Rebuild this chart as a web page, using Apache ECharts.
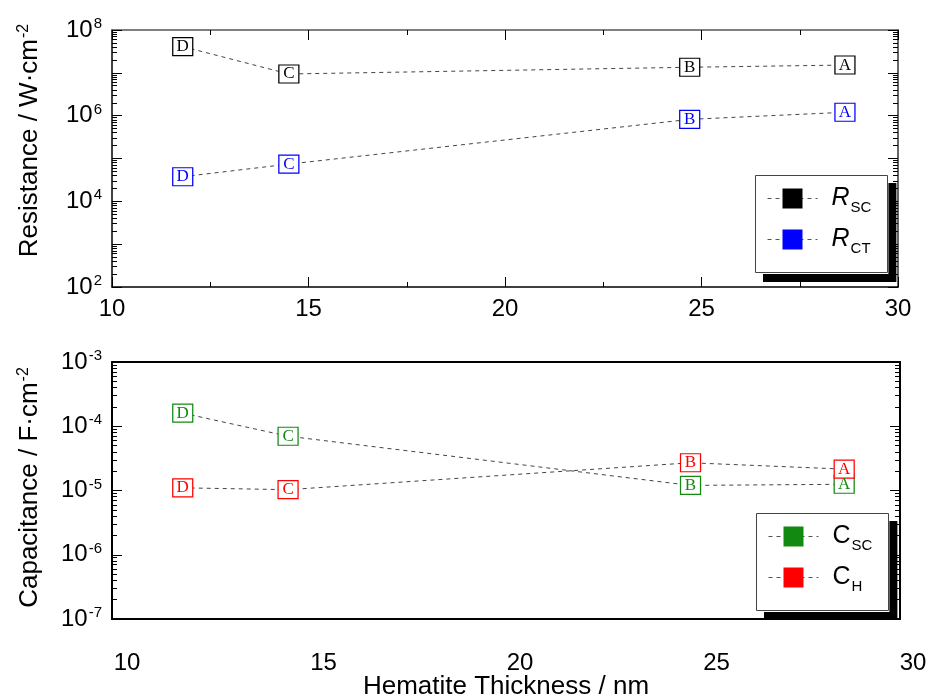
<!DOCTYPE html>
<html><head><meta charset="utf-8">
<script src="https://cdn.jsdelivr.net/npm/echarts@6/dist/echarts.min.js"></script>
<style>html,body{margin:0;padding:0;background:#fff}#c{width:935px;height:698px}</style>
</head><body><div id="c"></div>
<script>
// ---- data ----
const sampleLetters = ['D', 'C', 'B', 'A'];
const thicknessTop = [11.8, 14.5, 24.7, 28.65];
const thicknessBottom = [11.42, 14.1, 24.34, 28.25];
const rSC = [4.1e7, 9.4e6, 1.35e7, 1.52e7];
const rCT = [3.76e4, 7.4e4, 8.2e5, 1.2e6];
const cSC = [1.6e-4, 7.0e-5, 1.2e-5, 1.25e-5];
const cH = [1.1e-5, 1.03e-5, 2.7e-5, 2.15e-5];
const xTickLabels = [10, 15, 20, 25, 30];
const resistanceLabelValues = [1e2, 1e4, 1e6, 1e8];
const capacitanceLabelValues = [1e-7, 1e-6, 1e-5, 1e-4, 1e-3];

const FONT = '"Liberation Sans", Arial, sans-serif';
const SERIF = '"Liberation Serif", "Times New Roman", serif';

function decades(lo, hi) { const a = []; for (let e = lo; e <= hi; e++) a.push(Math.pow(10, e)); return a; }
function minors(lo, hi) { const a = []; for (let e = lo; e < hi; e++) for (let k = 2; k <= 9; k++) a.push(k * Math.pow(10, e)); return a; }

const supRich = {
  b: { fontSize: 24, fontFamily: FONT, color: '#000' },
  s: { fontSize: 15, fontFamily: FONT, color: '#000', verticalAlign: 'top', padding: [0, 0, 12, 1] }
};
function expLabel(v) {
  const e = Math.round(Math.log10(v));
  return '{b|10}{s|' + e + '}';
}
function zip(xs, ys) { return xs.map((x, i) => [x, ys[i]]); }

const grids = [
  { left: 112, top: 30, width: 786, height: 257, outerBoundsMode: 'none', containLabel: false },
  { left: 112, top: 362, width: 788, height: 257, outerBoundsMode: 'none', containLabel: false },
  { left: 127, top: 362, width: 786, height: 257, outerBoundsMode: 'none', containLabel: false }
];

function logY(gi, pos, min, max, opts) {
  return Object.assign({
    type: 'log', gridIndex: gi, position: pos, min: min, max: max, logBase: 10,
    axisLine: { show: false },
    splitLine: { show: false },
    axisLabel: { show: false },
    axisTick: { show: true, inside: true, length: 10, lineStyle: { color: '#000', width: 1 } }
  }, opts);
}
const nameRich = {
  n: { fontSize: 26, fontFamily: FONT, color: '#000' },
  s: { fontSize: 16, fontFamily: FONT, color: '#000', verticalAlign: 'top', padding: [0, 0, 12, 1] }
};
const majT = (vals) => ({ show: true, inside: true, length: 10, customValues: vals, lineStyle: { color: '#000', width: 1 } });
const minT = (vals) => ({ show: true, inside: true, length: 5, customValues: vals, lineStyle: { color: '#000', width: 1 } });

const yAxes = [
  // top grid
  logY(0, 'left', 1e2, 1e8, {
    axisLine: { show: true, lineStyle: { color: '#000', width: 1.5 } },
    axisLabel: { show: true, customValues: resistanceLabelValues, formatter: expLabel, rich: supRich, margin: 10 },
    axisTick: majT(decades(2, 8)),
    name: '{n|Resistance / W·cm}{s|-2}', nameLocation: 'middle', nameGap: 68,
    nameTextStyle: { padding: [0, 0, 0, 36], rich: nameRich }
  }),
  logY(0, 'left', 1e2, 1e8, { axisTick: minT(minors(2, 8)) }),
  logY(0, 'right', 1e2, 1e8, { axisLine: { show: true, lineStyle: { color: '#333', width: 1.5 } }, axisTick: majT(decades(2, 8)) }),
  logY(0, 'right', 1e2, 1e8, { axisTick: minT(minors(2, 8)) }),
  // bottom grid
  logY(1, 'left', 1e-7, 1e-3, {
    axisLine: { show: true, lineStyle: { color: '#000', width: 2 } },
    axisLabel: { show: true, customValues: capacitanceLabelValues, formatter: expLabel, rich: supRich, margin: 10 },
    axisTick: majT(decades(-7, -3)),
    name: '{n|Capacitance / F·cm}{s|-2}', nameLocation: 'middle', nameGap: 68,
    nameTextStyle: { padding: [0, 0, 0, 6], rich: nameRich }
  }),
  logY(1, 'left', 1e-7, 1e-3, { axisTick: minT(minors(-7, -3)) }),
  logY(1, 'right', 1e-7, 1e-3, { axisLine: { show: true, lineStyle: { color: '#000', width: 2 } }, axisTick: majT(decades(-7, -3)) }),
  logY(1, 'right', 1e-7, 1e-3, { axisTick: minT(minors(-7, -3)) }),
  // label-only grid
  { type: 'value', gridIndex: 2, show: false, min: 0, max: 1 }
];

const xAxes = [
  { type: 'value', gridIndex: 0, min: 10, max: 30, interval: 5, position: 'bottom',
    axisLine: { show: true, onZero: false, lineStyle: { color: '#000', width: 1.5 } },
    axisTick: { show: true, inside: true, length: 10, lineStyle: { color: '#000' } },
    minorTick: { show: true, splitNumber: 2, length: 5, lineStyle: { color: '#000' } },
    splitLine: { show: false },
    axisLabel: { fontSize: 24, fontFamily: FONT, color: '#000', margin: 10 } },
  { type: 'value', gridIndex: 0, min: 10, max: 30, interval: 5, position: 'top',
    axisLine: { show: true, onZero: false, lineStyle: { color: '#555', width: 1.5 } },
    axisTick: { show: true, inside: true, length: 10, lineStyle: { color: '#000' } },
    minorTick: { show: true, splitNumber: 2, length: 5, lineStyle: { color: '#000' } },
    splitLine: { show: false }, axisLabel: { show: false } },
  { type: 'value', gridIndex: 1, min: 9.62, max: 29.67, position: 'bottom',
    axisLine: { show: true, onZero: false, lineStyle: { color: '#000', width: 2 } },
    axisTick: { show: false }, splitLine: { show: false }, axisLabel: { show: false },
    name: 'Hematite Thickness / nm', nameLocation: 'middle', nameGap: 55,
    nameTextStyle: { fontSize: 26, fontFamily: FONT, color: '#000' } },
  { type: 'value', gridIndex: 1, min: 9.62, max: 29.67, position: 'top',
    axisLine: { show: true, onZero: false, lineStyle: { color: '#000', width: 2 } },
    axisTick: { show: false }, splitLine: { show: false }, axisLabel: { show: false } },
  { type: 'value', gridIndex: 2, min: 10, max: 30, interval: 5, position: 'bottom',
    axisLine: { show: false }, axisTick: { show: false }, splitLine: { show: false },
    axisLabel: { customValues: xTickLabels, fontSize: 24, fontFamily: FONT, color: '#000', margin: 32 } }
];

function mkSeries(name, xs, ys, color, xi, yi) {
  return {
    name: name, type: 'line', xAxisIndex: xi, yAxisIndex: yi,
    data: zip(xs, ys),
    symbol: 'rect', symbolSize: [20, 18],
    itemStyle: { color: '#fff', borderColor: color, borderWidth: 1.2 },
    lineStyle: { color: '#444', width: 1, type: [4, 4] },
    label: { show: true, position: 'inside', formatter: p => sampleLetters[p.dataIndex], fontFamily: SERIF, fontSize: 17, color: color },
    emphasis: { disabled: true }, animation: false, z: 3
  };
}

const GREEN = '#128a12';
const series = [
  mkSeries('RSC', thicknessTop, rSC, '#000', 0, 0),
  mkSeries('RCT', thicknessTop, rCT, '#0000ff', 0, 0),
  mkSeries('CSC', thicknessBottom, cSC, GREEN, 2, 4),
  mkSeries('CH', thicknessBottom, cH, '#ff0000', 2, 4)
];

const legendRich = {
  g: { width: 9 },
  i: { fontSize: 25, fontStyle: 'italic', fontFamily: FONT, color: '#000', verticalAlign: 'bottom' },
  u: { fontSize: 25, fontFamily: FONT, color: '#000', verticalAlign: 'bottom' },
  s: { fontSize: 15, fontFamily: FONT, color: '#000', verticalAlign: 'bottom', padding: [0, 0, -4, 1] }
};
const legendLabels = { RSC: '{g|}{i|R}{s|SC}', RCT: '{g|}{i|R}{s|CT}', CSC: '{g|}{u|C}{s|SC}', CH: '{g|}{u|C}{s|H}' };
function mkLegend(names, colors, left, top) {
  return {
    data: names.map((n, i) => ({ name: n, itemStyle: { color: colors[i], borderColor: colors[i], borderWidth: 0 } })),
    orient: 'vertical', left: left, top: top, itemWidth: 50, itemHeight: 25, itemGap: 12,
    padding: [11, 17, 18, 12], backgroundColor: '#fff', borderWidth: 0,
    shadowColor: '#000', shadowOffsetX: 8, shadowOffsetY: 8, shadowBlur: 0.01,
    formatter: n => legendLabels[n], textStyle: { rich: legendRich },
    lineStyle: { type: [4, 4], color: '#555', width: 1 },
    selectedMode: false
  };
}
const legendBoxes = [[755, 175, 132, 97], [756, 513, 132, 97]];

const chart = echarts.init(document.getElementById('c'), null, { renderer: 'canvas' });
chart.setOption({
  animation: false,
  backgroundColor: '#fff',
  grid: grids,
  xAxis: xAxes,
  yAxis: yAxes,
  legend: [
    mkLegend(['RSC', 'RCT'], ['#000', '#0000ff'], legendBoxes[0][0], legendBoxes[0][1]),
    mkLegend(['CSC', 'CH'], [GREEN, '#ff0000'], legendBoxes[1][0], legendBoxes[1][1])
  ],
  graphic: legendBoxes.map(b => ({
    type: 'rect', z: 100, silent: true,
    shape: { x: b[0] + 0.5, y: b[1] + 0.5, width: b[2], height: b[3] },
    style: { fill: 'none', stroke: '#444', lineWidth: 1 }
  })),
  series: series
});
</script></body></html>
